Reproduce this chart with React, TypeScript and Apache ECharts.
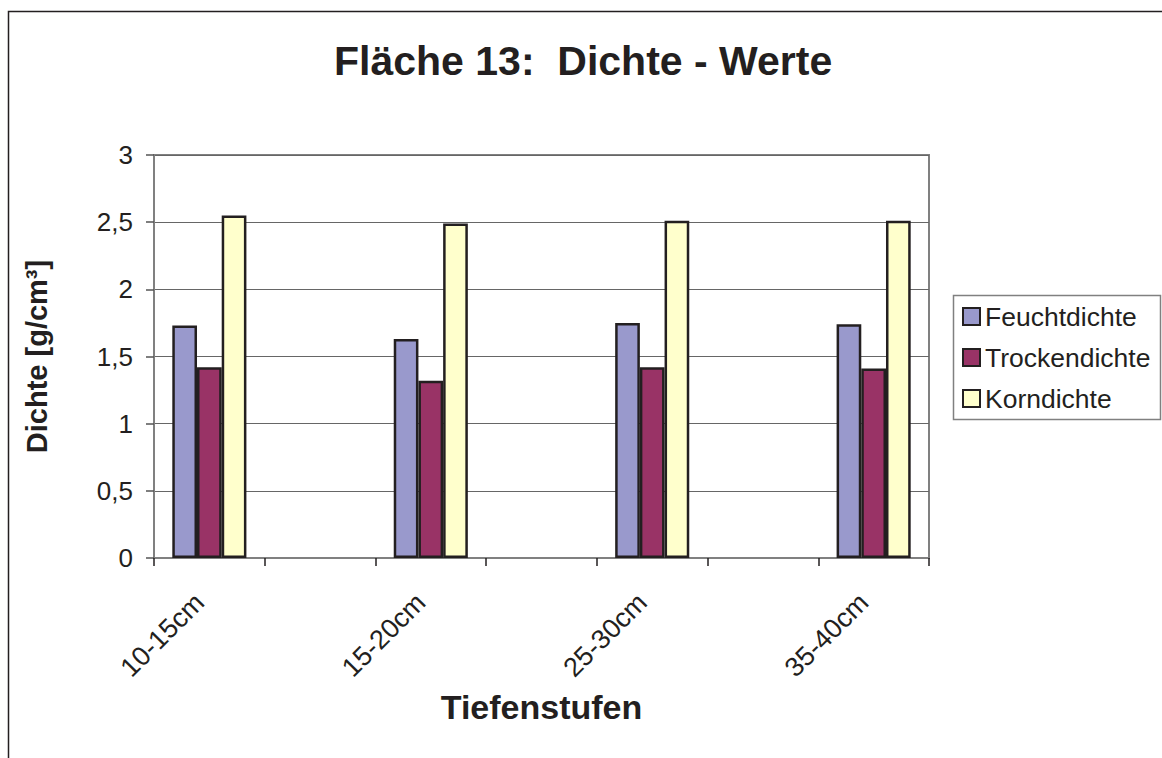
import React, { useEffect, useRef } from "react";
import * as echarts from "echarts";

const categories = ["10-15cm", "", "15-20cm", "", "25-30cm", "", "35-40cm"];
const feuchtdichte = [1.73, null, 1.63, null, 1.75, null, 1.74];
const trockendichte = [1.42, null, 1.32, null, 1.42, null, 1.41];
const korndichte = [2.55, null, 2.49, null, 2.51, null, 2.51];
const seriesNames = ["Feuchtdichte", "Trockendichte", "Korndichte"];
const seriesColors = ["#9999CC", "#993366", "#FFFFCC"];

const FONT = "'Liberation Sans', Arial, sans-serif";

export default function App() {
  const ref = useRef<HTMLDivElement>(null);
  useEffect(() => {
    if (!ref.current) return;
    const chart = echarts.init(ref.current, undefined, { renderer: "svg" });
    const dataSets = [feuchtdichte, trockendichte, korndichte];
    chart.setOption({
      animation: false,
      backgroundColor: "#ffffff",
      textStyle: { fontFamily: FONT },
      title: {
        text: "Fläche 13:  Dichte - Werte",
        left: 334,
        top: 40,
        padding: 0,
        textStyle: { fontFamily: FONT, fontSize: 41, fontWeight: "bold", color: "#231F20" },
      },
      graphic: [
        {
          type: "rect",
          shape: { x: 8.5, y: 11.5, width: 1165, height: 760 },
          style: { fill: "none", stroke: "#231F20", lineWidth: 1.5 },
          silent: true,
        },
        {
          type: "rect",
          shape: { x: 953.5, y: 295.5, width: 207, height: 124 },
          style: { fill: "none", stroke: "#808080", lineWidth: 1.5 },
          silent: true,
        },
      ],
      legend: {
        orient: "vertical",
        left: 962,
        top: 303,
        itemWidth: 17,
        itemHeight: 17,
        itemGap: 14,
        icon: "rect",
        padding: 0,
        textStyle: { fontFamily: FONT, fontSize: 26.5, color: "#231F20", lineHeight: 26.5 },
        data: seriesNames,
      },
      grid: {
        left: 154,
        top: 155,
        right: 233,
        bottom: 200,
        show: true,
        borderColor: "#808080",
        borderWidth: 2,
        backgroundColor: "#ffffff",
      },
      xAxis: {
        type: "category",
        data: categories,
        boundaryGap: true,
        name: "Tiefenstufen",
        nameLocation: "middle",
        nameGap: 132,
        nameTextStyle: { fontFamily: FONT, fontSize: 34, fontWeight: "bold", color: "#231F20" },
        axisLine: { lineStyle: { color: "#808080", width: 2 } },
        axisTick: { show: true, interval: 0, length: 8, lineStyle: { color: "#231F20", width: 1.5 } },
        axisLabel: {
          interval: 0,
          rotate: 45,
          margin: 30,
          fontFamily: FONT,
          fontSize: 27,
          color: "#231F20",
          formatter: (v: string) => (v ? v + "{s|}" : ""),
          rich: { s: { width: 14 } },
        },
      },
      yAxis: {
        type: "value",
        min: 0,
        max: 3,
        interval: 0.5,
        name: "Dichte [g/cm³]",
        nameLocation: "middle",
        nameGap: 103,
        nameTextStyle: { fontFamily: FONT, fontSize: 29, fontWeight: "bold", color: "#231F20" },
        axisLine: { show: true, lineStyle: { color: "#808080", width: 2 } },
        axisTick: { show: true, length: 8, lineStyle: { color: "#555555", width: 1.5 } },
        axisLabel: {
          margin: 21,
          fontFamily: FONT,
          fontSize: 26,
          color: "#231F20",
          formatter: (v: number) => String(v).replace(".", ","),
        },
        splitLine: { show: true, lineStyle: { color: "#666666", width: 1 } },
      },
      series: dataSets.map((d, i) => ({
        name: seriesNames[i],
        type: "bar",
        data: d,
        barWidth: 24.7,
        barGap: "0%",
        itemStyle: { color: seriesColors[i], borderColor: "#231F20", borderWidth: 2.5 },
      })),
    });
    return () => chart.dispose();
  }, []);
  return (
    <div
      ref={ref}
      style={{ position: "fixed", left: 0, top: 0, width: 1162, height: 758 }}
    />
  );
}
